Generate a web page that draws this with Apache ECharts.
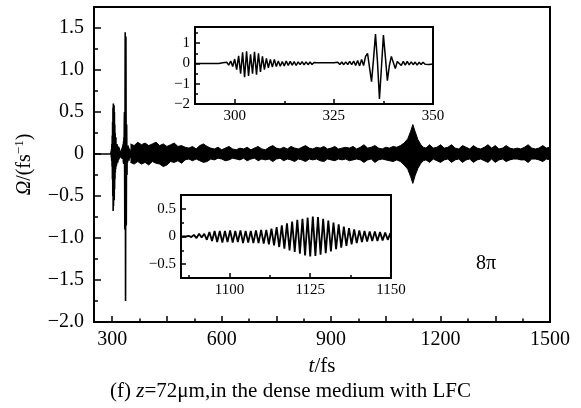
<!DOCTYPE html>
<html>
<head>
<meta charset="utf-8">
<script src="https://cdn.jsdelivr.net/npm/echarts@6/dist/echarts.min.js"></script>
<style>html,body{margin:0;padding:0;background:#fff;}#c{width:581px;height:408px;}</style>
</head>
<body>
<div id="c"></div>
<script>
// ---------- data ----------
// Main x ticks / labels (fs)
const mainXLabels = [300, 600, 900, 1200, 1500];
const mainXMajor = [300, 450, 600, 750, 900, 1050, 1200, 1350, 1500];
const mainXMinor = [375, 525, 675, 825, 975, 1125, 1275, 1425];
const mainYLabels = [-2, -1.5, -1, -0.5, 0, 0.5, 1, 1.5];
const mainYMinor = [-1.75, -1.25, -0.75, -0.25, 0.25, 0.75, 1.25];

// Inset 1 (290-350 fs): samples every 0.5 fs starting at 290 fs
const inset1Start = 290;
const inset1Step = 0.5;
const inset1Values = [
  0, 0, 0, 0, 0, 0, 0, 0, 0, 0,
  0, 0, 0, 0, 0.03, -0.04, 0.06, -0.08, 0.12, -0.15,
  0.22, -0.30, 0.38, -0.50, 0.55, -0.68, 0.60, -0.62, 0.45, -0.50,
  0.58, -0.55, 0.50, -0.42, 0.35, -0.30, 0.25, -0.22, 0.20, -0.18,
  0.20, -0.15, 0.12, -0.14, 0.10, -0.12, 0.12, -0.10, 0.10, -0.08,
  0.09, -0.10, 0.08, -0.06, 0.09, -0.07, 0.08, -0.06, 0.07, -0.05,
  0.05, -0.04, 0.04, -0.03, 0.03, -0.04, 0.03, -0.03, 0.04, -0.03,
  0.04, -0.05, 0.06, -0.05, 0.07, -0.06, 0.08, -0.05, 0.10, -0.06,
  0.12, -0.10, 0.15, -0.12, 0.20, -0.10, 0.35, 0.50, -0.20, -0.90,
  0.20, 1.45, 0.10, -1.75, -0.20, 1.40, 0.30, -0.85, -0.10, 0.35,
  0.05, -0.25, 0.10, 0.12, -0.10, 0.10, -0.08, 0.10, -0.07, 0.08,
  -0.06, 0.07, -0.08, 0.06, -0.05, 0.06, -0.04, 0.05, -0.05, 0.04,
  -0.03
];
const inset1XLabels = [300, 325, 350];
const inset1XMinor = [312.5, 337.5];
const inset1YLabels = [-2, -1, 0, 1];
const inset1YMinor = [-1.5, -0.5, 0.5, 1.5];

// Inset 2 (1085-1150 fs): oscillation extrema every 0.8 fs starting at 1085 fs
const inset2Start = 1085;
const inset2Step = 0.8;
const inset2Values = [
  0, 0, 0, 0.01, -0.01, 0.03, -0.03, 0.05, -0.02, 0.05,
  -0.06, 0.08, -0.08, 0.10, -0.10, 0.10, -0.11, 0.10, -0.10, 0.11,
  -0.11, 0.10, -0.10, 0.11, -0.12, 0.10, -0.11, 0.10, -0.12, 0.11,
  -0.12, 0.12, -0.13, 0.12, -0.14, 0.14, -0.16, 0.17, -0.19, 0.20,
  -0.22, 0.24, -0.25, 0.27, -0.28, 0.30, -0.31, 0.32, -0.34, 0.34,
  -0.36, 0.36, -0.35, 0.35, -0.33, 0.32, -0.30, 0.29, -0.27, 0.25,
  -0.23, 0.22, -0.20, 0.18, -0.17, 0.15, -0.14, 0.13, -0.12, 0.11,
  -0.10, 0.10, -0.09, 0.09, -0.08, 0.09, -0.08, 0.08, -0.07, 0.07,
  -0.06, 0.06
];
const inset2XLabels = [1100, 1125, 1150];
const inset2XMinor = [1087.5, 1112.5, 1137.5];
const inset2YLabels = [-0.5, 0, 0.5];
const inset2YMinor = [-0.25, 0.25];

// Main plot: envelope of the dense oscillation after 350 fs
const envTime = [
  350, 360, 370, 380, 390, 400, 410, 420, 430, 440,
  450, 460, 470, 480, 490, 500, 510, 520, 530, 540,
  550, 560, 570, 580, 590, 600, 610, 620, 630, 640,
  650, 660, 670, 680, 690, 700, 710, 720, 730, 740,
  750, 760, 770, 780, 790, 800, 810, 820, 830, 840,
  850, 860, 870, 880, 890, 900, 910, 920, 930, 940,
  950, 960, 970, 980, 990, 1000, 1010, 1020, 1030, 1040,
  1050, 1060, 1070, 1080, 1090, 1100, 1110, 1118, 1124, 1130,
  1138, 1146, 1153, 1160, 1170, 1180, 1190, 1200, 1210, 1220,
  1230, 1240, 1250, 1260, 1270, 1280, 1290, 1300, 1310, 1320,
  1330, 1340, 1350, 1360, 1370, 1380, 1390, 1400, 1410, 1420,
  1430, 1440, 1450, 1460, 1470, 1480, 1490, 1500
];
const envUpper = [
  0.12, 0.10, 0.14, 0.11, 0.13, 0.10, 0.12, 0.14, 0.10, 0.12,
  0.09, 0.11, 0.13, 0.09, 0.10, 0.08, 0.07, 0.09, 0.06, 0.10,
  0.12, 0.09, 0.07, 0.06, 0.08, 0.05, 0.07, 0.09, 0.06, 0.05,
  0.07, 0.06, 0.08, 0.05, 0.07, 0.09, 0.06, 0.05, 0.08, 0.10,
  0.07, 0.06, 0.08, 0.06, 0.09, 0.07, 0.06, 0.08, 0.10, 0.07,
  0.06, 0.08, 0.07, 0.09, 0.06, 0.07, 0.09, 0.06, 0.07, 0.08,
  0.07, 0.09, 0.06, 0.08, 0.11, 0.07, 0.08, 0.10, 0.07, 0.06,
  0.08, 0.07, 0.09, 0.08, 0.10, 0.13, 0.18, 0.27, 0.35, 0.27,
  0.17, 0.11, 0.08, 0.07, 0.11, 0.07, 0.08, 0.11, 0.07, 0.08,
  0.11, 0.07, 0.06, 0.10, 0.08, 0.06, 0.10, 0.07, 0.06, 0.08,
  0.11, 0.07, 0.10, 0.06, 0.07, 0.10, 0.07, 0.06, 0.07, 0.06,
  0.08, 0.11, 0.07, 0.06, 0.07, 0.10, 0.07, 0.08
];
const envLower = [
  -0.10, -0.12, -0.09, -0.12, -0.10, -0.13, -0.09, -0.11, -0.12, -0.15,
  -0.13, -0.09, -0.10, -0.08, -0.11, -0.07, -0.06, -0.08, -0.06, -0.08,
  -0.10, -0.09, -0.06, -0.07, -0.05, -0.06, -0.08, -0.07, -0.05, -0.06,
  -0.07, -0.05, -0.08, -0.06, -0.05, -0.08, -0.06, -0.07, -0.06, -0.09,
  -0.06, -0.05, -0.08, -0.06, -0.07, -0.09, -0.06, -0.07, -0.09, -0.06,
  -0.07, -0.06, -0.08, -0.09, -0.06, -0.07, -0.08, -0.06, -0.07, -0.06,
  -0.08, -0.07, -0.06, -0.07, -0.10, -0.07, -0.06, -0.10, -0.07, -0.06,
  -0.07, -0.08, -0.09, -0.07, -0.09, -0.13, -0.18, -0.27, -0.35, -0.26,
  -0.17, -0.11, -0.08, -0.07, -0.10, -0.06, -0.08, -0.10, -0.07, -0.06,
  -0.10, -0.07, -0.06, -0.10, -0.07, -0.06, -0.10, -0.07, -0.06, -0.08,
  -0.10, -0.06, -0.10, -0.07, -0.06, -0.09, -0.07, -0.06, -0.06, -0.07,
  -0.07, -0.10, -0.06, -0.06, -0.07, -0.09, -0.06, -0.07
];
const leadIn = [[230, 0]];

// ---------- build ----------
const FONT = 'Liberation Serif';
const inset1Data = inset1Values.map((v, i) => [inset1Start + i * inset1Step, v]);
const inset2Data = inset2Values.map((v, i) => [inset2Start + i * inset2Step, v]);
const mainLine = leadIn.concat(inset1Data);
const upperData = envTime.map((t, i) => [t, envUpper[i]]);
const lowerData = envTime.map((t, i) => [t, envLower[i]]);

function fmt1(v) {
  if (Math.abs(v) < 1e-9) return '0';
  const s = Math.abs(v).toFixed(1);
  return v < 0 ? '\u2212' + s : s;
}
function fmt0(v) {
  if (Math.abs(v) < 1e-9) return '0';
  return v < 0 ? '\u2212' + Math.abs(v) : String(v);
}

function axisPair(kind, gridIndex, min, max, labels, majorTicks, minorTicks, formatter, fontSize, majorLen, minorLen, margin) {
  const pos = kind === 'x' ? 'bottom' : 'left';
  const major = {
    type: 'value', gridIndex, min, max, position: pos,
    axisLine: { show: false, onZero: false },
    splitLine: { show: false },
    axisTick: { show: true, inside: true, length: majorLen, customValues: majorTicks, lineStyle: { color: '#000', width: 1.5 } },
    axisLabel: { show: true, customValues: labels, formatter, margin, color: '#000', fontFamily: FONT, fontSize }
  };
  const minor = {
    type: 'value', gridIndex, min, max, position: pos,
    axisLine: { show: false, onZero: false },
    splitLine: { show: false },
    axisTick: { show: true, inside: true, length: minorLen, customValues: minorTicks, lineStyle: { color: '#000', width: 1.5 } },
    axisLabel: { show: false }
  };
  return [major, minor];
}

const mx = axisPair('x', 0, 250, 1500, mainXLabels, mainXMajor, mainXMinor, v => String(v), 20, 6, 3.5, 8);
const my = axisPair('y', 0, -2, 1.75, mainYLabels, mainYLabels, mainYMinor, fmt1, 20, 7, 4, 10);
const i1x = axisPair('x', 1, 290, 350, inset1XLabels, inset1XLabels, inset1XMinor, v => String(v), 15, 5, 3, 5);
const i1y = axisPair('y', 1, -2, 1.8, inset1YLabels, inset1YLabels, inset1YMinor, fmt0, 15, 5, 3, 5);
const i2x = axisPair('x', 2, 1085, 1150, inset2XLabels, inset2XLabels, inset2XMinor, v => String(v), 15, 5, 3, 5);
const i2y = axisPair('y', 2, -0.75, 0.75, inset2YLabels, inset2YLabels, inset2YMinor, fmt1, 15, 5, 3, 5);

mx[0].name = '{i|t}/fs';
mx[0].nameLocation = 'middle';
mx[0].nameGap = 34;
mx[0].nameTextStyle = { color: '#000', fontFamily: FONT, fontSize: 21, rich: { i: { fontStyle: 'italic', fontFamily: FONT, fontSize: 21, color: '#000' } } };

my[0].name = '{o|\u03A9}/(fs{s|\u22121})';
my[0].nameLocation = 'middle';
my[0].nameRotate = 90;
my[0].nameGap = 46;
my[0].nameTextStyle = {
  color: '#000', fontFamily: FONT, fontSize: 20, lineHeight: 24,
  rich: {
    o: { fontStyle: 'italic', fontFamily: FONT, fontSize: 20, color: '#000', lineHeight: 24 },
    s: { fontFamily: FONT, fontSize: 13, color: '#000', verticalAlign: 'top', lineHeight: 14 }
  }
};

const chart = echarts.init(document.getElementById('c'), null, { renderer: 'canvas' });
chart.setOption({
  animation: false,
  backgroundColor: '#fff',
  grid: [
    { left: 94, top: 7, width: 456, height: 315, show: true, borderColor: '#000', borderWidth: 2, backgroundColor: 'transparent' },
    { left: 195, top: 27, width: 238, height: 77, show: true, borderColor: '#000', borderWidth: 2, backgroundColor: '#fff' },
    { left: 181, top: 195, width: 210, height: 83, show: true, borderColor: '#000', borderWidth: 2, backgroundColor: '#fff' }
  ],
  xAxis: [mx[0], mx[1], i1x[0], i1x[1], i2x[0], i2x[1]],
  yAxis: [my[0], my[1], i1y[0], i1y[1], i2y[0], i2y[1]],
  series: [
    { type: 'line', xAxisIndex: 0, yAxisIndex: 0, data: upperData, symbol: 'none', clip: true,
      lineStyle: { color: '#000', width: 1 }, areaStyle: { color: '#000', opacity: 1, origin: 'auto' } },
    { type: 'line', xAxisIndex: 0, yAxisIndex: 0, data: lowerData, symbol: 'none', clip: true,
      lineStyle: { color: '#000', width: 1 }, areaStyle: { color: '#000', opacity: 1, origin: 'auto' } },
    { type: 'line', xAxisIndex: 0, yAxisIndex: 0, data: mainLine, symbol: 'none', clip: false,
      lineStyle: { color: '#000', width: 1.6 } },
    { type: 'line', xAxisIndex: 2, yAxisIndex: 2, data: inset1Data, symbol: 'none',
      lineStyle: { color: '#000', width: 1.5 } },
    { type: 'line', xAxisIndex: 4, yAxisIndex: 4, data: inset2Data, symbol: 'none',
      lineStyle: { color: '#000', width: 1.8 } }
  ],
  graphic: [
    { type: 'text', left: 476, top: 254, style: { text: '8\u03C0', font: '20px "Liberation Serif"', fill: '#000' } },
    { type: 'text', left: 'center', top: 381,
      style: { text: '(f) {i|z}=72\u03BCm,in the dense medium with LFC', font: '21px "Liberation Serif"', fill: '#000',
        rich: { i: { font: 'italic 21px "Liberation Serif"', fill: '#000' } } } }
  ]
});
</script>
</body>
</html>
